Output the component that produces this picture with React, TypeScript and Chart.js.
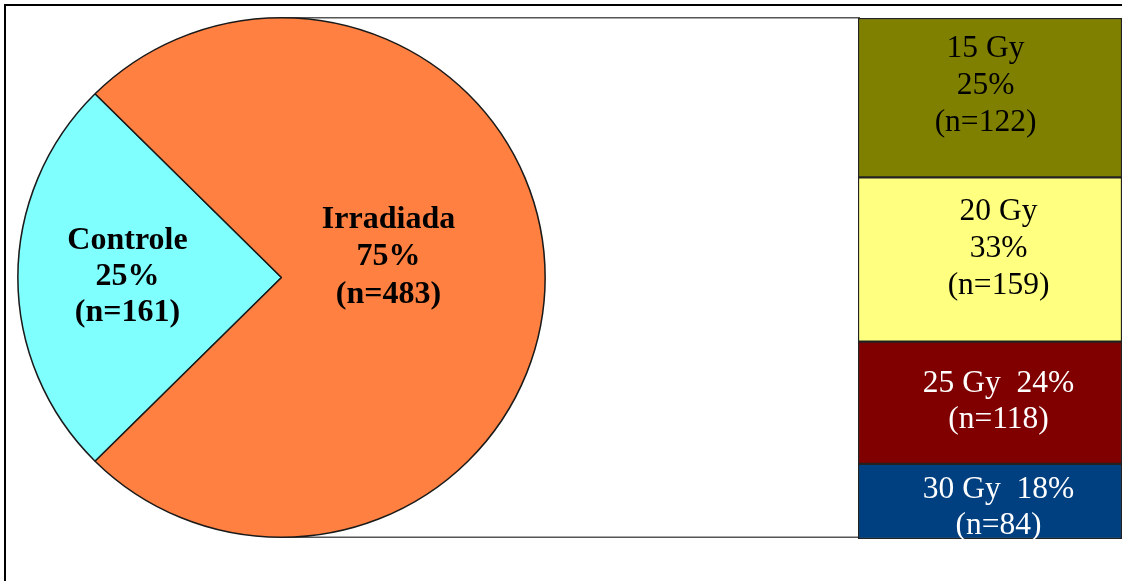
import React, { useEffect, useRef } from "react";
import { Chart, registerables } from "chart.js";

Chart.register(...registerables);

// ---- Pie data ----
const pieCategories = ["Controle", "Irradiada"];
const piePercents = [25, 75];
const pieCounts = [161, 483];
const pieColors = ["#80FFFF", "#FF8040"];

// ---- Bar (breakdown of Irradiada) data, top to bottom ----
const doseLabels = ["15 Gy", "20 Gy", "25 Gy", "30 Gy"];
const dosePercents = [25, 33, 24, 18];
const doseCounts = [122, 159, 118, 84];
// relative segment sizes as drawn in the picture
const doseBarSizes = [159, 164, 122, 75];
const doseColors = ["#808000", "#FFFF80", "#800000", "#004080"];
const doseTextColors = ["#000000", "#000000", "#FFFFFF", "#FFFFFF"];
const doseStackedText = [true, true, false, false];

// label position tweaks (styling only, pixels from the anchor)
const pieLabelOffsets = [
  [-154, -1],
  [107, -20.5],
];
const pieLineHeights = [36, 37.5];
const doseLabelOffsets = [
  [-4.5, -12],
  [8.5, -11],
  [8.5, -1],
  [8.5, 6.5],
];
const PIE_STRETCH_X = 1.015;

const SERIF = "'Liberation Serif', 'Times New Roman', serif";

function pieLines(i: number): string[] {
  return [pieCategories[i], `${piePercents[i]}%`, `(n=${pieCounts[i]})`];
}
function doseLines(i: number): string[] {
  if (doseStackedText[i]) {
    return [doseLabels[i], `${dosePercents[i]}%`, `(n=${doseCounts[i]})`];
  }
  return [`${doseLabels[i]}  ${dosePercents[i]}%`, `(n=${doseCounts[i]})`];
}

export default function App() {
  const pieRef = useRef<HTMLCanvasElement | null>(null);
  const barRef = useRef<HTMLCanvasElement | null>(null);

  useEffect(() => {
    const pieLabelPlugin = {
      id: "pieLabels",
      beforeDatasetsDraw(chart: any) {
        const meta = chart.getDatasetMeta(0);
        const arc = meta.data[0];
        if (!arc) return;
        const ctx = chart.ctx;
        const cx = arc.x;
        const cy = arc.y;
        const r = arc.outerRadius;
        ctx.save();
        ctx.strokeStyle = "#555555";
        ctx.lineWidth = 1.5;
        ctx.beginPath();
        ctx.moveTo(cx, cy - r);
        ctx.lineTo(chart.width, cy - r);
        ctx.moveTo(cx, cy + r);
        ctx.lineTo(chart.width, cy + r);
        ctx.stroke();
        ctx.restore();
        // slight horizontal stretch, as in the original
        ctx.save();
        ctx.translate(cx, 0);
        ctx.scale(PIE_STRETCH_X, 1);
        ctx.translate(-cx, 0);
      },
      afterDatasetsDraw(chart: any) {
        const ctx = chart.ctx;
        ctx.restore();
        const meta = chart.getDatasetMeta(0);
        ctx.save();
        ctx.font = `bold 32px ${SERIF}`;
        ctx.fillStyle = "#000000";
        ctx.textAlign = "center";
        ctx.textBaseline = "middle";
        meta.data.forEach((arc: any, i: number) => {
          const x = arc.x + pieLabelOffsets[i][0];
          const y = arc.y + pieLabelOffsets[i][1];
          const lines = pieLines(i);
          const lh = pieLineHeights[i];
          const startY = y - ((lines.length - 1) * lh) / 2;
          lines.forEach((t, k) => ctx.fillText(t, x, startY + k * lh));
        });
        ctx.restore();
      },
    };

    const barLabelPlugin = {
      id: "barLabels",
      afterDatasetsDraw(chart: any) {
        const ctx = chart.ctx;
        ctx.save();
        ctx.font = `31.5px ${SERIF}`;
        ctx.textAlign = "center";
        ctx.textBaseline = "middle";
        chart.data.datasets.forEach((ds: any, di: number) => {
          const i = ds.doseIndex;
          const el = chart.getDatasetMeta(di).data[0];
          if (!el) return;
          const top = Math.min(el.y, el.base);
          const bottom = Math.max(el.y, el.base);
          const left = el.x - el.width / 2;
          ctx.save();
          ctx.beginPath();
          ctx.rect(left, top, el.width, bottom - top);
          ctx.clip();
          ctx.fillStyle = doseTextColors[i];
          const cx = el.x + doseLabelOffsets[i][0];
          const cy = (top + bottom) / 2 + doseLabelOffsets[i][1];
          const lines = doseLines(i);
          const lh = doseStackedText[i] ? 37 : 35.5;
          const startY = cy - ((lines.length - 1) * lh) / 2;
          lines.forEach((t, k) => ctx.fillText(t, cx, startY + k * lh));
          ctx.restore();
        });
        ctx.restore();
      },
    };

    const pie = new Chart(pieRef.current as HTMLCanvasElement, {
      type: "pie",
      data: {
        labels: pieCategories,
        datasets: [
          {
            data: piePercents,
            backgroundColor: pieColors,
            borderColor: "#1a1a1a",
            borderWidth: 1.5,
            clip: false,
          } as any,
        ],
      },
      options: {
        responsive: false,
        animation: false,
        events: [],
        rotation: 225,
        layout: { padding: { left: 21, right: 318, top: 17, bottom: 43 } },
        plugins: { legend: { display: false }, tooltip: { enabled: false } },
      },
      plugins: [pieLabelPlugin],
    });

    const order = [3, 2, 1, 0]; // bottom to top
    const total = doseBarSizes.reduce((a, b) => a + b, 0);
    const bar = new Chart(barRef.current as HTMLCanvasElement, {
      type: "bar",
      data: {
        labels: ["Irradiada"],
        datasets: order.map((i) => ({
          label: doseLabels[i],
          data: [doseBarSizes[i]],
          backgroundColor: doseColors[i],
          borderColor: "#222222",
          borderWidth: 1.5,
          borderSkipped: false,
          barPercentage: 1,
          categoryPercentage: 1,
          doseIndex: i,
        })) as any,
      },
      options: {
        responsive: false,
        animation: false,
        events: [],
        layout: { padding: 0 },
        scales: {
          x: { stacked: true, display: false },
          y: { stacked: true, display: false, min: 0, max: total },
        },
        plugins: { legend: { display: false }, tooltip: { enabled: false } },
      },
      plugins: [barLabelPlugin],
    });

    return () => {
      pie.destroy();
      bar.destroy();
    };
  }, []);

  return (
    <div
      style={{
        position: "absolute",
        left: 0,
        top: 0,
        width: 1131,
        height: 581,
        background: "#ffffff",
        overflow: "hidden",
      }}
    >
      <div
        style={{
          position: "absolute",
          left: 4,
          top: 4,
          width: 1118,
          height: 600,
          borderTop: "2px solid #000",
          borderLeft: "2px solid #000",
          boxSizing: "border-box",
        }}
      />
      <canvas
        ref={pieRef}
        width={860}
        height={581}
        style={{ position: "absolute", left: 0, top: 0, width: 860, height: 581 }}
      />
      <canvas
        ref={barRef}
        width={264}
        height={521}
        style={{ position: "absolute", left: 858, top: 18, width: 264, height: 521 }}
      />
    </div>
  );
}
